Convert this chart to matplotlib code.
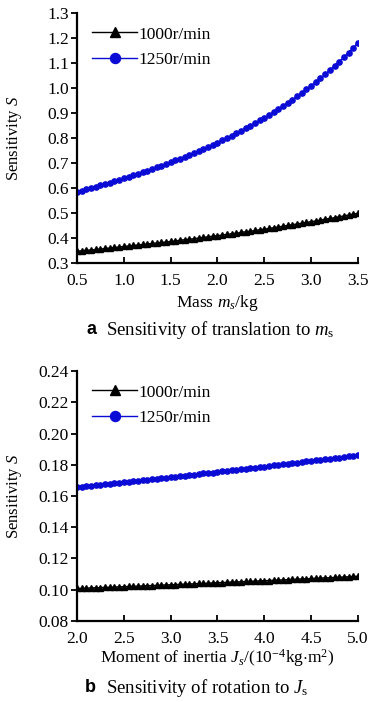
import numpy as np
import matplotlib
matplotlib.use("Agg")
import matplotlib.pyplot as plt

plt.rcParams['font.family'] = ['Liberation Serif', 'DejaVu Serif']
plt.rcParams['mathtext.fontset'] = 'custom'
plt.rcParams['mathtext.rm'] = 'Liberation Serif'
plt.rcParams['mathtext.it'] = 'Liberation Serif:italic'

# data (step 0.05 along x)
mass = np.linspace(0.5, 3.5, 61)
trans_1000 = [0.348, 0.350, 0.352, 0.353, 0.355, 0.357, 0.359, 0.361, 0.363, 0.365,
              0.367, 0.369, 0.371, 0.373, 0.375, 0.377, 0.379, 0.381, 0.383, 0.385,
              0.387, 0.389, 0.392, 0.394, 0.396, 0.398, 0.401, 0.403, 0.406, 0.408,
              0.410, 0.413, 0.415, 0.418, 0.420, 0.423, 0.426, 0.428, 0.431, 0.434,
              0.436, 0.439, 0.442, 0.445, 0.448, 0.451, 0.454, 0.457, 0.460, 0.463,
              0.466, 0.469, 0.473, 0.476, 0.479, 0.482, 0.486, 0.489, 0.493, 0.496,
              0.500]
trans_1250 = [0.585, 0.590, 0.595, 0.600, 0.606, 0.611, 0.616, 0.622, 0.627, 0.633,
              0.639, 0.645, 0.651, 0.657, 0.663, 0.670, 0.676, 0.683, 0.690, 0.696,
              0.703, 0.711, 0.718, 0.725, 0.733, 0.741, 0.749, 0.757, 0.765, 0.774,
              0.782, 0.791, 0.800, 0.810, 0.819, 0.829, 0.839, 0.849, 0.860, 0.871,
              0.882, 0.893, 0.904, 0.916, 0.929, 0.941, 0.954, 0.967, 0.981, 0.995,
              1.009, 1.024, 1.040, 1.055, 1.072, 1.088, 1.106, 1.123, 1.142, 1.161,
              1.181]

inertia = np.linspace(2.0, 5.0, 61)
rot_1000 = [0.1008, 0.1009, 0.1010, 0.1012, 0.1013, 0.1014, 0.1015, 0.1016, 0.1017, 0.1019,
            0.1020, 0.1021, 0.1022, 0.1023, 0.1025, 0.1026, 0.1027, 0.1028, 0.1030, 0.1031,
            0.1032, 0.1033, 0.1035, 0.1036, 0.1037, 0.1038, 0.1040, 0.1041, 0.1042, 0.1044,
            0.1045, 0.1046, 0.1047, 0.1049, 0.1050, 0.1051, 0.1053, 0.1054, 0.1055, 0.1057,
            0.1058, 0.1059, 0.1061, 0.1062, 0.1063, 0.1065, 0.1066, 0.1068, 0.1069, 0.1070,
            0.1072, 0.1073, 0.1075, 0.1076, 0.1077, 0.1079, 0.1080, 0.1082, 0.1083, 0.1085,
            0.1086]
rot_1250 = [0.1656, 0.1659, 0.1662, 0.1665, 0.1669, 0.1672, 0.1675, 0.1678, 0.1681, 0.1684,
            0.1688, 0.1691, 0.1694, 0.1697, 0.1700, 0.1704, 0.1707, 0.1710, 0.1714, 0.1717,
            0.1720, 0.1723, 0.1727, 0.1730, 0.1733, 0.1737, 0.1740, 0.1744, 0.1747, 0.1750,
            0.1754, 0.1757, 0.1761, 0.1764, 0.1768, 0.1771, 0.1774, 0.1778, 0.1781, 0.1785,
            0.1788, 0.1792, 0.1796, 0.1799, 0.1803, 0.1806, 0.1810, 0.1813, 0.1817, 0.1821,
            0.1824, 0.1828, 0.1831, 0.1835, 0.1839, 0.1842, 0.1846, 0.1850, 0.1854, 0.1857,
            0.1861]

labels = ['1000r/min', '1250r/min']
blue = '#0b0bd6'

fig = plt.figure(figsize=(3.74, 7.02), dpi=100)
ax1 = fig.add_axes([0.206, 0.625, 0.751, 0.3565])
ax2 = fig.add_axes([0.206, 0.1154, 0.751, 0.3561])


def style(ax):
    for s in ['top', 'right']:
        ax.spines[s].set_visible(False)
    for s in ['left', 'bottom']:
        ax.spines[s].set_linewidth(1.6)
    ax.tick_params(axis='y', direction='out', length=4, width=1.3, labelsize=12.5, pad=2)
    ax.tick_params(axis='x', direction='in', length=4, width=1.3, labelsize=12.5, pad=7)
    ax.set_ylabel('Sensitivity $\\mathit{S}$', fontsize=12)
    ax.yaxis.set_label_coords(-0.19, 0.5)
    ax.legend(loc='upper left', frameon=False, fontsize=12.5, handlelength=2.6,
              handletextpad=0.1, markerscale=1.9, labelspacing=0.55,
              bbox_to_anchor=(0.01, 0.995), borderaxespad=0.3)


# a: translation
ax1.plot(mass, trans_1000, color='black', lw=1.0, marker='^', ms=3.8, label=labels[0])
ax1.plot(mass, trans_1250, color=blue, lw=1.0, marker='o', ms=3.8, label=labels[1])
ax1.set_xlim(0.5, 3.5)
ax1.set_ylim(0.3, 1.3)
ax1.set_xticks(np.arange(0.5, 3.51, 0.5))
ax1.set_yticks(np.arange(0.3, 1.31, 0.1))
ax1.xaxis.set_major_formatter(matplotlib.ticker.FormatStrFormatter('%.1f'))
ax1.yaxis.set_major_formatter(matplotlib.ticker.FormatStrFormatter('%.1f'))
style(ax1)
ax1.set_xlabel('Mass $\\mathit{m}_s$/kg', fontsize=12.5, labelpad=3)

# b: rotation
ax2.plot(inertia, rot_1000, color='black', lw=1.0, marker='^', ms=3.8, label=labels[0])
ax2.plot(inertia, rot_1250, color=blue, lw=1.0, marker='o', ms=3.8, label=labels[1])
ax2.set_xlim(2.0, 5.0)
ax2.set_ylim(0.08, 0.24)
ax2.set_xticks(np.arange(2.0, 5.01, 0.5))
ax2.set_yticks(np.arange(0.08, 0.241, 0.02))
ax2.xaxis.set_major_formatter(matplotlib.ticker.FormatStrFormatter('%.1f'))
ax2.yaxis.set_major_formatter(matplotlib.ticker.FormatStrFormatter('%.2f'))
style(ax2)
ax2.set_xlabel('Moment of inertia $\\mathit{J}_s$/(10$^{-4}$kg$\\cdot$m$^2$)', fontsize=12.5, labelpad=0)

# captions
fig.text(0.232, 1 - 330 / 702, 'a', fontfamily='Liberation Sans', fontweight='bold',
         fontsize=13, ha='left', va='center')
fig.text(0.283, 1 - 330 / 702, 'Sensitivity of translation to $\\mathit{m}_{\\mathrm{s}}$',
         fontsize=13.5, ha='left', va='center')
fig.text(0.226, 1 - 688 / 702, 'b', fontfamily='Liberation Sans', fontweight='bold',
         fontsize=13, ha='left', va='center')
fig.text(0.283, 1 - 688 / 702, 'Sensitivity of rotation to $\\mathit{J}_{\\mathrm{s}}$',
         fontsize=13.5, ha='left', va='center')

fig.savefig('out.png', dpi=100)
